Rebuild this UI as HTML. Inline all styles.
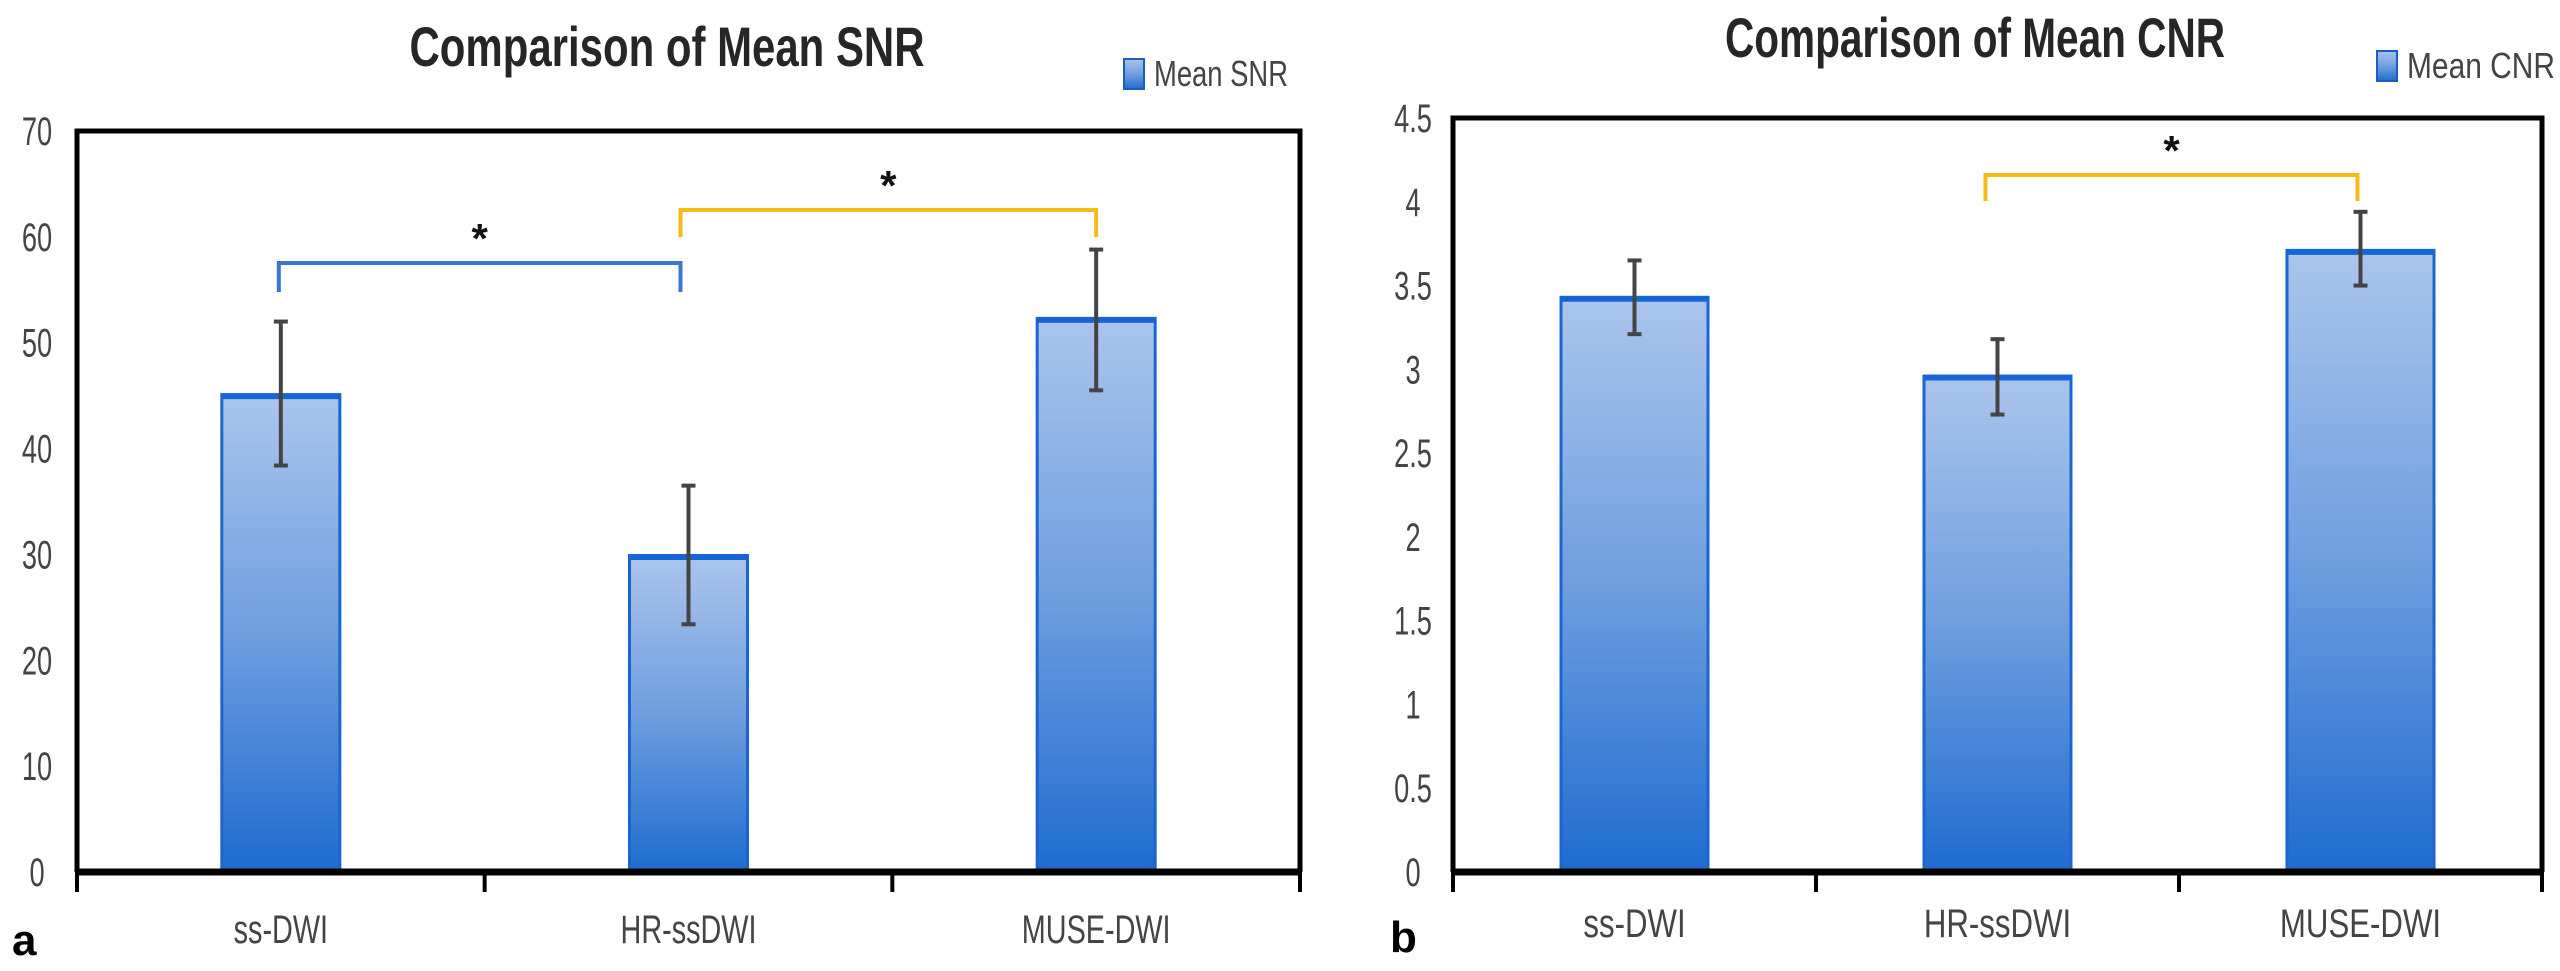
<!DOCTYPE html>
<html><head><meta charset="utf-8"><style>
html,body{margin:0;padding:0;background:#fff;width:2560px;height:971px;overflow:hidden}
svg text{font-family:"Liberation Sans Narrow","Liberation Sans",sans-serif}
</style></head><body>
<svg id="fig" width="2560" height="971" viewBox="0 0 2560 971" xmlns="http://www.w3.org/2000/svg">
<defs>
<linearGradient id="bg" x1="0" y1="0" x2="0" y2="1">
<stop offset="0" stop-color="#abc5ec"/><stop offset="0.5" stop-color="#6f9edf"/><stop offset="1" stop-color="#1e6ccf"/>
</linearGradient>
</defs>
</svg>
<script>
const categories = ["ss-DWI","HR-ssDWI","MUSE-DWI"];
const snrValues = [45.1, 29.9, 52.3];
const snrErrHigh = [52.0, 36.5, 58.8];
const snrErrLow = [38.4, 23.4, 45.5];
const snrTicks = [0,10,20,30,40,50,60,70];
const cnrValues = [3.43, 2.96, 3.71];
const cnrErrHigh = [3.65, 3.18, 3.94];
const cnrErrLow = [3.21, 2.73, 3.50];
const cnrTicks = ["0","0.5","1","1.5","2","2.5","3","3.5","4","4.5"];

const NS="http://www.w3.org/2000/svg";
const svg=document.getElementById('fig');
function mk(tag,attrs,parent,text){const e=document.createElementNS(NS,tag);for(const k in attrs)e.setAttribute(k,attrs[k]);if(text!==undefined)e.textContent=text;(parent||svg).appendChild(e);return e;}

function chart(cfg){
  const g=mk('g',{});
  
  
  const x0=cfg.left,x1=cfg.right,yT=cfg.top,yB=cfg.bottom;
  const y=v=>yB-(v/cfg.max)*(yB-yT);
  const bw=(x1-x0)/categories.length;
  const cx=i=>x0+bw*(i+0.5);
  const fr=mk('path',{d:`M${x0} ${yB} V${yT} H${x1} V${yB}`,fill:'none',stroke:'#000','stroke-width':5},g);
  
  
  const t=mk('text',{x:cfg.titleX,y:cfg.titleY,'text-anchor':'middle','font-size':56,'font-weight':'bold',fill:'#262626',textLength:cfg.titleW,lengthAdjust:'spacingAndGlyphs'},g,cfg.title);
  
  
  const lg=mk('g',{},g);
  
  
  mk('rect',{x:cfg.legX,y:cfg.legY,width:20,height:30,fill:'url(#bg)',stroke:'#1a5fc0','stroke-width':2},lg);
  mk('text',{x:cfg.legX+30,y:cfg.legY+27,'font-size':36,fill:'#444',textLength:cfg.legW,lengthAdjust:'spacingAndGlyphs'},lg,cfg.legend);
  cfg.ticks.forEach(tv=>{
    const tl=mk('text',{transform:`translate(${cfg.tickX},${y(parseFloat(tv))+14}) scale(0.68,1)`,'text-anchor':'middle','font-size':40,fill:'#444'},g,String(tv));
    
    
  });
  cfg.values.forEach((v,i)=>{
    const w=cfg.barW;
    const b=mk('rect',{x:cx(i)-w/2,y:y(v),width:w,height:yB-y(v),fill:'url(#bg)',stroke:'#1a66d0','stroke-width':3},g);
    
    
    mk('line',{x1:cx(i)-w/2,x2:cx(i)+w/2,y1:y(v)+2,y2:y(v)+2,stroke:'#1565d8','stroke-width':5},g);
    const eg=mk('g',{stroke:'#444','stroke-width':4},g);
    
    
    mk('line',{x1:cx(i),x2:cx(i),y1:y(cfg.hi[i]),y2:y(cfg.lo[i])},eg);
    mk('line',{x1:cx(i)-7,x2:cx(i)+7,y1:y(cfg.hi[i]),y2:y(cfg.hi[i])},eg);
    mk('line',{x1:cx(i)-7,x2:cx(i)+7,y1:y(cfg.lo[i]),y2:y(cfg.lo[i])},eg);
    const cl=mk('text',{transform:`translate(${cx(i)},${cfg.catY}) scale(${cfg.catScale},1)`,'text-anchor':'middle','font-size':40,fill:'#444'},g,categories[i]);
    
    
  });
  const ax=mk('line',{x1:x0,x2:x1,y1:yB,y2:yB,stroke:'#000','stroke-width':7},g);
  
  
  for(let i=0;i<=categories.length;i++)mk('line',{x1:x0+bw*i,x2:x0+bw*i,y1:yB,y2:yB+20,stroke:'#000','stroke-width':4},g);
  cfg.brackets.forEach(br=>{
    const bg=mk('g',{},g);
    
    
    const xa=cx(br.a)+br.da,xb=cx(br.b)+br.db;
    mk('path',{d:`M${xa} ${br.y+br.drop} V${br.y} H${xb} V${br.y+br.drop}`,fill:'none',stroke:br.color,'stroke-width':4},bg);
    mk('text',{x:(xa+xb)/2,y:br.y-10,'text-anchor':'middle','font-size':42,'font-weight':'bold',fill:'#111'},bg,'*');
  });
  const pl=mk('text',{x:cfg.panelX,y:cfg.panelY,'font-size':44,'font-weight':'bold',fill:'#000'},g,cfg.panel);
  
  
}

chart({name:'snr-chart',left:77,right:1300,top:131,bottom:872,max:70,ticks:snrTicks,tickX:37,
  values:snrValues,hi:snrErrHigh,lo:snrErrLow,barW:118,catY:943,catScale:0.72,
  title:'Comparison of Mean SNR',titleX:667,titleY:66,titleW:515,
  legend:'Mean SNR',legX:1124,legY:59,legW:134,
  brackets:[{a:0,b:1,da:-2,db:-8,y:263,drop:29,color:'#3a78d0'},{a:1,b:2,da:-8,db:0,y:210,drop:27,color:'#f5bb1a'}],
  panel:'a',panelX:12,panelY:955});
chart({name:'cnr-chart',left:1453,right:2542,top:118,bottom:872,max:4.5,ticks:cnrTicks,tickX:1413,
  values:cnrValues,hi:cnrErrHigh,lo:cnrErrLow,barW:147,catY:937,catScale:0.78,
  title:'Comparison of Mean CNR',titleX:1975,titleY:57,titleW:500,
  legend:'Mean CNR',legX:2377,legY:51,legW:148,
  brackets:[{a:1,b:2,da:-12,db:-3,y:175,drop:26,color:'#f5bb1a'}],
  panel:'b',panelX:1390,panelY:952});
</script>
</body></html>
